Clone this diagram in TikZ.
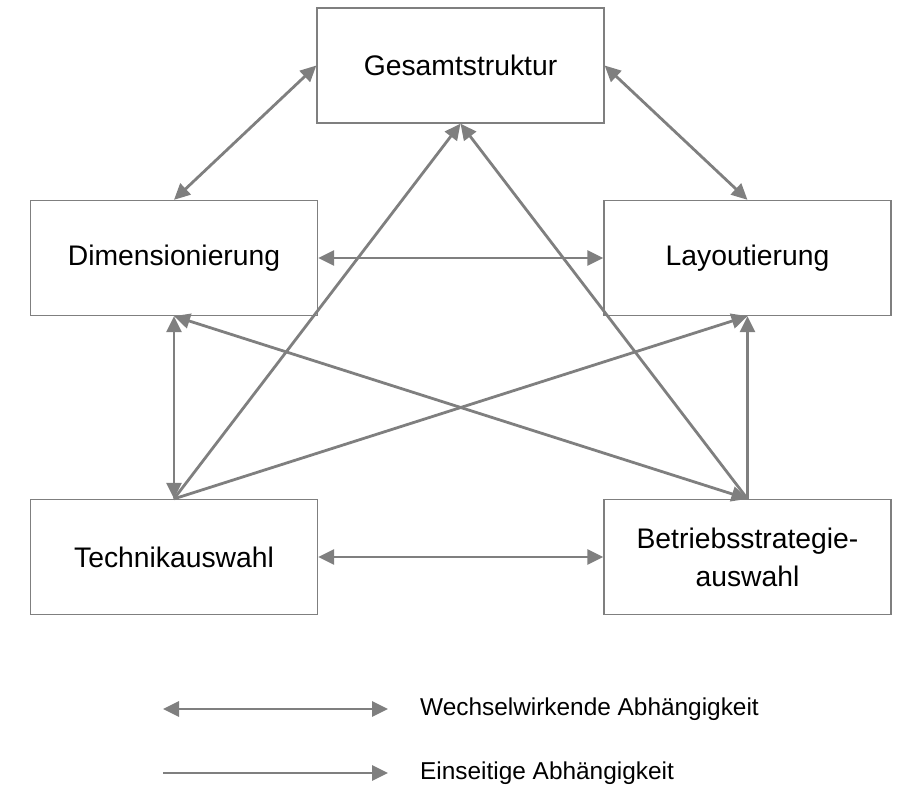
\documentclass[tikz,border=0pt]{standalone}
\usepackage{fontspec}
\setmainfont{Liberation Sans}
\usetikzlibrary{arrows.meta}
\definecolor{lg}{RGB}{127,127,127}
\begin{document}
\begin{tikzpicture}[x=1pt,y=-1pt,
  box/.style={draw=lg,line width=1.3pt,rectangle,minimum width=287pt,minimum height=115pt,inner sep=0pt,align=center,font=\fontsize{28.3}{38}\selectfont},
  conn/.style={draw=lg,line width=2.8pt},
  twoway/.style={conn,{Triangle[length=16pt,width=15pt]}-{Triangle[length=16pt,width=15pt]}},
  oneway/.style={conn,-{Triangle[length=16pt,width=15pt]}},
  legtext/.style={anchor=west,inner sep=0pt,font=\fontsize{24.4}{28}\selectfont}]
\useasboundingbox (0,0) rectangle (897,789);
\node[box] (G) at (460.5,65.5) {Gesamtstruktur};
\node[box] (D) at (174,258) {Dimensionierung};
\node[box] (L) at (747.5,258) {Layoutierung};
\node[box] (T) at (174,557) {Technikauswahl};
\node[box] (B) at (747.5,557) {Betriebsstrategie-\\auswahl};
\draw[twoway] (G.west) -- (D.north);
\draw[twoway] (G.east) -- (L.north);
\draw[twoway] (D.east) -- (L.west);
\draw[twoway] (D.south) -- (T.north);
\draw[twoway] (D.south) -- (B.north);
\draw[twoway] (T.east) -- (B.west);
\draw[oneway] (B.north) -- (L.south);
\draw[oneway] (T.north) -- (G.south);
\draw[oneway] (B.north) -- (G.south);
\draw[oneway] (T.north) -- (L.south);
\coordinate (a1) at (163,709);
\coordinate (a2) at (388,709);
\coordinate (b1) at (163,773);
\coordinate (b2) at (388,773);
\draw[twoway] (a1) -- (a2);
\draw[oneway] (b1) -- (b2);
\node[legtext] (t1) at (420,709) {Wechselwirkende Abhängigkeit};
\node[legtext] (t2) at (420,773) {Einseitige Abhängigkeit};
\end{tikzpicture}
\end{document}
